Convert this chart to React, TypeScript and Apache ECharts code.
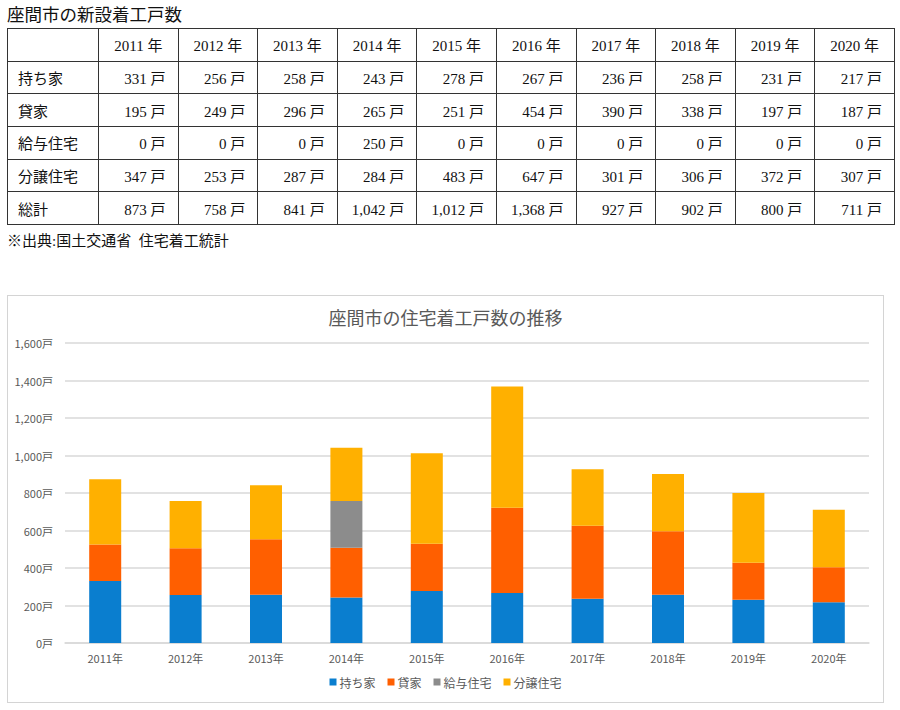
import { useEffect, useRef } from 'react';
import * as echarts from 'echarts';

/* ───── Data ───── */
const years = ['2011', '2012', '2013', '2014', '2015', '2016', '2017', '2018', '2019', '2020'];
const ownHouse = [331, 256, 258, 243, 278, 267, 236, 258, 231, 217];
const rental = [195, 249, 296, 265, 251, 454, 390, 338, 197, 187];
const issued = [0, 0, 0, 250, 0, 0, 0, 0, 0, 0];
const forSale = [347, 253, 287, 284, 483, 647, 301, 306, 372, 307];
const totals = [873, 758, 841, 1042, 1012, 1368, 927, 902, 800, 711];

const seriesNames = ['持ち家', '貸家', '給与住宅', '分譲住宅'];
const seriesColors = ['#0A7ECF', '#FF5F00', '#8C8C8C', '#FFB000'];

const tableRows: { label: string; values: number[] }[] = [
  { label: '持ち家', values: ownHouse },
  { label: '貸家', values: rental },
  { label: '給与住宅', values: issued },
  { label: '分譲住宅', values: forSale },
  { label: '総計', values: totals },
];

const SERIF = '"Liberation Serif", "DejaVu Serif", "Noto Sans CJK JP", serif';
const SANS = '"Noto Sans CJK JP", "Noto Sans", sans-serif';
const fmtNum = (v: number) => v.toLocaleString('en-US');

/* ───── Table ───── */
function UnitsTable() {
  const cell: React.CSSProperties = { border: '1.5px solid #333', height: 32.7, padding: 0, boxSizing: 'border-box' };
  return (
    <table style={{ position: 'absolute', left: 7, top: 28, width: 887, borderCollapse: 'collapse', tableLayout: 'fixed', fontFamily: SERIF, fontSize: 15, color: '#111' }}>
      <colgroup>
        <col style={{ width: 91 }} />
        {years.map(y => <col key={y} style={{ width: 79.6 }} />)}
      </colgroup>
      <thead>
        <tr>
          <th style={cell} />
          {years.map(y => (
            <th key={y} style={{ ...cell, fontWeight: 400, textAlign: 'center' }}>{y} 年</th>
          ))}
        </tr>
      </thead>
      <tbody>
        {tableRows.map(r => (
          <tr key={r.label}>
            <td style={{ ...cell, textAlign: 'left', paddingLeft: 10 }}>{r.label}</td>
            {r.values.map((v, i) => (
              <td key={i} style={{ ...cell, textAlign: 'right', paddingRight: 12 }}>{fmtNum(v)} 戸</td>
            ))}
          </tr>
        ))}
      </tbody>
    </table>
  );
}

/* ───── Chart ───── */
function StackChart() {
  const ref = useRef<HTMLDivElement>(null);

  useEffect(() => {
    if (!ref.current) return;
    const chart = echarts.init(ref.current, undefined, { renderer: 'svg' });
    const data = [ownHouse, rental, issued, forSale];
    chart.setOption({
      animation: false,
      textStyle: { fontFamily: SANS },
      title: {
        text: '座間市の住宅着工戸数の推移', left: 'center', top: 8,
        textStyle: { fontSize: 18, fontWeight: 400, color: '#595959', fontFamily: SANS },
      },
      legend: {
        data: seriesNames, bottom: 10, left: 'center',
        itemWidth: 7, itemHeight: 7, itemGap: 12, icon: 'rect',
        textStyle: { fontSize: 12, color: '#595959', padding: [0, 0, 0, -2] },
      },
      grid: { left: 58, right: 15, top: 48, bottom: 60 },
      xAxis: {
        type: 'category', data: years.map(y => `${y}年`),
        axisLine: { lineStyle: { color: '#d9d9d9', width: 1.5 } },
        axisTick: { show: false },
        axisLabel: { fontSize: 11, color: '#595959', margin: 9 },
      },
      yAxis: {
        type: 'value', min: 0, max: 1600, interval: 200,
        axisLine: { show: false }, axisTick: { show: false },
        splitLine: { lineStyle: { color: '#d9d9d9', width: 1.5 } },
        axisLabel: { fontSize: 11, color: '#595959', margin: 12, formatter: (v: number) => `${fmtNum(v)}戸` },
      },
      series: seriesNames.map((name, i) => ({
        name, type: 'bar', stack: 'total', data: data[i], barWidth: 32,
        itemStyle: { color: seriesColors[i] },
      })),
    });
    return () => { chart.dispose(); };
  }, []);

  return (
    <div style={{ position: 'absolute', left: 7, top: 295, width: 877, height: 408, border: '1.5px solid #d4d4d4', boxSizing: 'border-box', background: '#fff' }}>
      <div ref={ref} style={{ position: 'absolute', left: -1.5, top: -1.5, width: 877, height: 408 }} />
    </div>
  );
}

export default function App() {
  return (
    <div style={{ position: 'absolute', left: 0, top: 0, width: 900, height: 710, background: '#fff', overflow: 'hidden' }}>
      <div style={{ position: 'absolute', left: 7, top: 3, fontFamily: SERIF, fontSize: 17.5, color: '#111', lineHeight: '24px' }}>座間市の新設着工戸数</div>
      <UnitsTable />
      <div style={{ position: 'absolute', left: 7, top: 229, fontFamily: SERIF, fontSize: 15, color: '#111', lineHeight: '24px', whiteSpace: 'pre' }}>※出典:国土交通省  住宅着工統計</div>
      <StackChart />
    </div>
  );
}
